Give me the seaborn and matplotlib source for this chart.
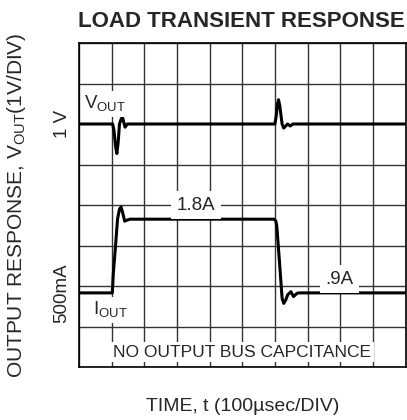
import matplotlib
matplotlib.use("Agg")
import matplotlib.pyplot as plt
import numpy as np
import pandas as pd
import seaborn as sns

# Traces, in scope divisions (x: 100usec/div, y: divisions from bottom)
vout_t = [0.0, 1.03, 1.07, 1.12, 1.16, 1.20, 1.24, 1.29, 1.33, 1.37, 1.41, 1.48, 1.55, 6.0, 6.04, 6.08, 6.11, 6.15, 6.22, 6.27, 6.33, 6.39, 6.47, 6.55, 6.72, 10.0]
vout_v = [6.0, 6.0, 5.85, 5.45, 5.27, 5.55, 6.0, 6.12, 6.17, 6.05, 5.92, 6.0, 6.0, 6.0, 6.2, 6.5, 6.6, 6.45, 6.0, 5.9, 5.95, 6.0, 5.95, 6.0, 6.0, 6.0]

iout_t = [0.0, 1.02, 1.05, 1.12, 1.18, 1.24, 1.29, 1.34, 1.40, 1.45, 1.56, 5.98, 6.03, 6.06, 6.14, 6.22, 6.27, 6.33, 6.39, 6.49, 6.57, 6.68, 6.75, 10.0]
iout_v = [1.83, 1.83, 2.3, 3.0, 3.65, 3.9, 3.95, 3.8, 3.6, 3.62, 3.65, 3.65, 3.6, 3.46, 2.6, 1.7, 1.57, 1.65, 1.78, 1.86, 1.74, 1.82, 1.83, 1.83]

ytick_pos = [6.0, 1.83]
ytick_labels = ["1 V", "500mA"]

sns.set_style("white")
plt.rcParams["font.family"] = ["Liberation Sans", "DejaVu Sans"]

fig = plt.figure(figsize=(4.07, 4.2), dpi=100)
ax = fig.add_axes([79 / 407, 53 / 420, 326.5 / 407, 324 / 420])

vout = pd.DataFrame({"t": vout_t, "v": vout_v})
iout = pd.DataFrame({"t": iout_t, "v": iout_v})
sns.lineplot(data=vout, x="t", y="v", ax=ax, color="black", lw=2.2, sort=False, estimator=None)
sns.lineplot(data=iout, x="t", y="v", ax=ax, color="black", lw=2.2, sort=False, estimator=None)

ax.set_xlim(0, 10)
ax.set_ylim(0, 8)

# grid
ax.set_xticks(range(11))
ax.set_xticklabels([])
ax.set_yticks(range(9), minor=True)
ax.set_yticks(ytick_pos)
ax.set_yticklabels(ytick_labels, rotation=90, va="center", fontsize=13.5)
ax.tick_params(axis="both", which="both", length=0)
ax.tick_params(axis="y", pad=6)
ax.grid(True, axis="x", which="major", color="#333333", lw=1)
ax.grid(True, axis="y", which="minor", color="#333333", lw=1)
for s in ax.spines.values():
    s.set_color("black")
    s.set_linewidth(1.2)

ax.set_xlabel("TIME, t (100\u00b5sec/DIV)", fontsize=14)
ax.xaxis.set_label_coords(0.5, -0.095)
ax.set_ylabel(r"OUTPUT RESPONSE, V$_{\mathregular{OUT}}$(1V/DIV)", fontsize=15)
ax.yaxis.set_label_coords(-0.155, 0.5)

box = dict(facecolor="white", edgecolor="none", boxstyle="square,pad=0.15")
ax.text(0.15, 6.5, r"V$_{\mathregular{OUT}}$", fontsize=13.5, va="center", ha="left", bbox=box)
ax.text(0.44, 1.4, r"I$_{\mathregular{OUT}}$", fontsize=13.5, va="center", ha="left", bbox=box)
ax.text(3.59, 4.0, "1.8A", fontsize=13.5, va="center", ha="center",
        bbox=dict(facecolor="white", edgecolor="none", boxstyle="square,pad=0.3"))
ax.text(7.98, 2.17, ".9A", fontsize=13.5, va="center", ha="center",
        bbox=dict(facecolor="white", edgecolor="none", boxstyle="square,pad=0.3"))
ax.text(5.0, 0.37, "NO OUTPUT BUS CAPCITANCE", fontsize=12.5, va="center", ha="center", bbox=box)

fig.text(241 / 407, 1 - 27 / 420, "LOAD TRANSIENT RESPONSE", fontsize=16, fontweight="bold",
         ha="center", va="baseline")

fig.savefig("out.png", dpi=100)
